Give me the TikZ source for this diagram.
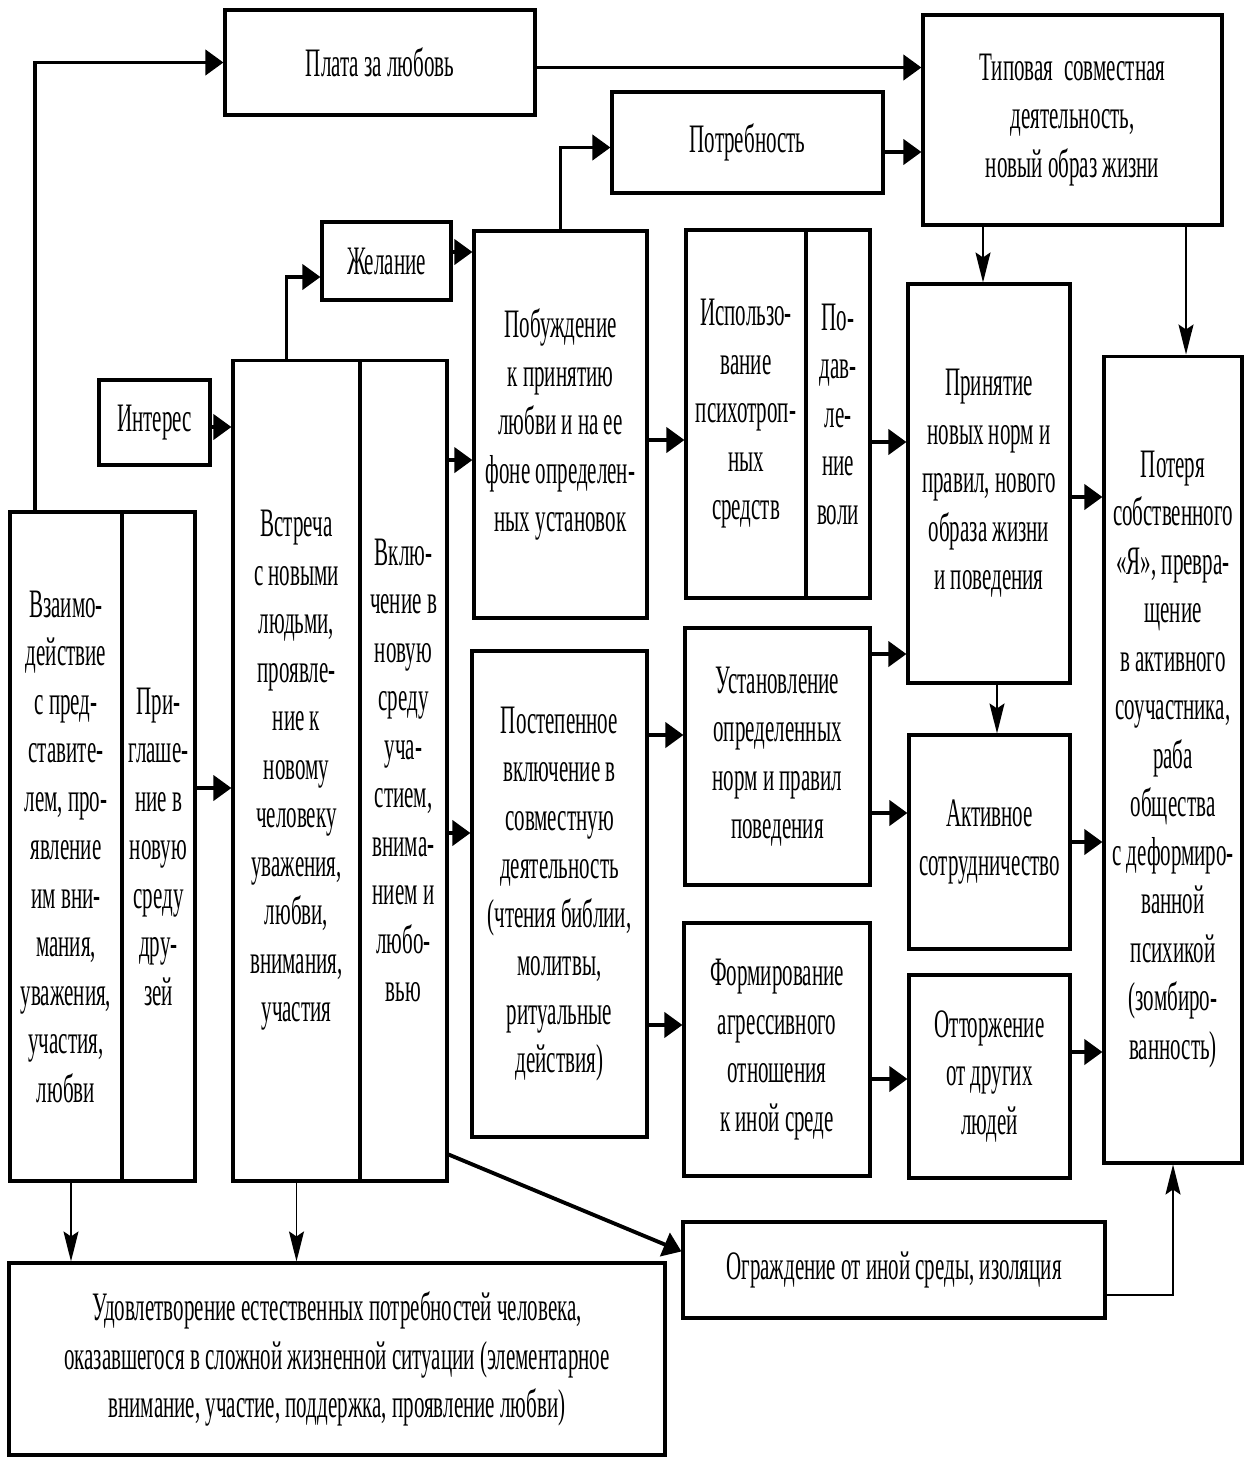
\documentclass[tikz,border=0pt]{standalone}
\usepackage{fontspec}
\setmainfont{Liberation Serif}[FakeStretch=0.52]
\usetikzlibrary{arrows.meta}

\begin{document}
\begin{tikzpicture}[x=0.02cm, y=-0.02cm,
  every node/.style={font=\fontsize{23}{27.6}\selectfont},
  box/.style={draw, line width=1.8pt, align=center, inner sep=0pt},
  arr/.style={line width=2.2pt, -{Triangle[length=3.6mm, width=5mm]}},
  thinarr/.style={line width=1.1pt, -{Stealth[length=6mm, width=3mm, inset=1mm]}}]
\useasboundingbox (0,0) rectangle (1244,1461);
% top row
\node[box, minimum width=6.2cm, minimum height=2.1cm] (plata) at (380,62.5) {Плата за любовь};
\node[box, minimum width=5.98cm, minimum height=4.2cm] (tipovaya) at (1072.5,120) {Типовая\ \ совместная\\деятельность,\\новый образ жизни};
\node[box, minimum width=5.42cm, minimum height=2.02cm] (potreb) at (747.5,142.5) {Потребность};
\node[box, minimum width=2.58cm, minimum height=1.56cm] (zhelanie) at (386.5,261) {Желание};
\node[box, minimum width=2.22cm, minimum height=1.7cm] (interes) at (154.5,422.5) {Интерес};
% double boxes
\node[box, minimum width=2.24cm, minimum height=13.38cm] (vzaim) at (66,846.5) {Взаимо-\\действие\\с пред-\\ставите-\\лем, про-\\явление\\им вни-\\мания,\\уважения,\\участия,\\любви};
\node[box, minimum width=1.46cm, minimum height=13.38cm] (prigl) at (158.5,846.5) {При-\\глаше-\\ние в\\новую\\среду\\дру-\\зей};
\node[box, minimum width=2.54cm, minimum height=16.42cm] (vstrecha) at (296.5,770.5) {Встреча\\с новыми\\людьми,\\проявле-\\ние к\\новому\\человеку\\уважения,\\любви,\\внимания,\\участия};
\node[box, minimum width=1.74cm, minimum height=16.42cm] (vkluch) at (403.5,770.5) {Вклю-\\чение в\\новую\\среду\\уча-\\стием,\\внима-\\нием и\\любо-\\вью};
\node[box, minimum width=2.4cm, minimum height=7.36cm] (ispolz) at (746,414) {Использо-\\вание\\психотроп-\\ных\\средств};
\node[box, minimum width=1.28cm, minimum height=7.36cm] (podavl) at (838,414) {По-\\дав-\\ле-\\ние\\воли};
% middle columns
\node[box, minimum width=3.46cm, minimum height=7.74cm] (pobuzhd) at (560.5,424.5) {Побуждение\\к принятию\\любви и на ее\\фоне определен-\\ных установок};
\node[box, minimum width=3.5cm, minimum height=9.72cm] (postep) at (559.5,894) {Постепенное\\включение в\\совместную\\деятельность\\(чтения библии,\\молитвы,\\ритуальные\\действия)};
\node[box, minimum width=3.7cm, minimum height=5.14cm] (ustanov) at (777.5,756.5) {Установление\\определенных\\норм и правил\\поведения};
\node[box, minimum width=3.72cm, minimum height=5.06cm] (formir) at (777,1049.5) {Формирование\\агрессивного\\отношения\\к иной среде};
\node[box, minimum width=3.24cm, minimum height=7.98cm] (prinyatie) at (989,483.5) {Принятие\\новых норм и\\правил, нового\\образа жизни\\и поведения};
\node[box, minimum width=3.22cm, minimum height=4.28cm] (aktiv) at (989.5,842) {Активное\\сотрудничество};
\node[box, minimum width=3.22cm, minimum height=4.06cm] (ottorzh) at (989.5,1076.5) {Отторжение\\от других\\людей};
\node[box, minimum width=2.76cm, minimum height=16.14cm] (poterya) at (1173,759.5) {Потеря\\собственного\\«Я», превра-\\щение\\в активного\\соучастника,\\раба\\общества\\с деформиро-\\ванной\\психикой\\(зомбиро-\\ванность)};
% bottom row
\node[box, minimum width=8.44cm, minimum height=1.92cm] (ograzh) at (894,1270) {Ограждение от иной среды, изоляция};
\node[box, minimum width=13.12cm, minimum height=3.84cm] (udovl) at (337,1359) {Удовлетворение естественных потребностей человека,\\оказавшегося в сложной жизненной ситуации (элементарное\\внимание, участие, поддержка, проявление любви)};
% thick arrows
\draw[arr] ([xshift=0.54cm]vzaim.north west) |- (plata.west);
\draw[arr] ([yshift=-0.1cm]plata.east) -- ([yshift=-0.1cm]plata.east -| tipovaya.west);
\draw[arr] (pobuzhd.north) |- ([yshift=-0.1cm]potreb.west);
\draw[arr] ([yshift=-0.19cm]potreb.east) -- ([yshift=-0.19cm]potreb.east -| tipovaya.west);
\draw[arr] ([xshift=-0.2cm]vstrecha.north) |- ([yshift=-0.32cm]zhelanie.west);
\draw[arr] ([yshift=0.18cm]zhelanie.east) -- ([yshift=0.18cm]zhelanie.east -| pobuzhd.west);
\draw[arr] ([yshift=-0.09cm]interes.east) -- ([yshift=-0.09cm]interes.east -| vstrecha.west);
\draw[arr] ([yshift=6.21cm]vkluch.east) -- ([yshift=6.21cm]vkluch.east -| pobuzhd.west);
\draw[arr] ([yshift=-0.31cm]pobuzhd.east) -- ([yshift=-0.31cm]pobuzhd.east -| ispolz.west);
\draw[arr] ([yshift=-0.56cm]podavl.east) -- ([yshift=-0.56cm]podavl.east -| prinyatie.west);
\draw[arr] ([yshift=-0.27cm]prinyatie.east) -- ([yshift=-0.27cm]prinyatie.east -| poterya.west);
\draw[arr] ([yshift=1.17cm]prigl.east) -- ([yshift=1.17cm]prigl.east -| vstrecha.west);
\draw[arr] ([yshift=-1.25cm]vkluch.east) -- ([yshift=-1.25cm]vkluch.east -| postep.west);
\draw[arr] ([yshift=3.18cm]postep.east) -- ([yshift=3.18cm]postep.east -| ustanov.west);
\draw[arr] ([yshift=-2.62cm]postep.east) -- ([yshift=-2.62cm]postep.east -| formir.west);
\draw[arr] ([yshift=2.05cm]ustanov.east) -- ([yshift=2.05cm]ustanov.east -| prinyatie.west);
\draw[arr] ([yshift=-1.13cm]ustanov.east) -- ([yshift=-1.13cm]ustanov.east -| aktiv.west);
\draw[arr] (aktiv.east) -- (aktiv.east -| poterya.west);
\draw[arr] ([yshift=-0.59cm]formir.east) -- ([yshift=-0.59cm]formir.east -| ottorzh.west);
\draw[arr] ([yshift=0.49cm]ottorzh.east) -- ([yshift=0.49cm]ottorzh.east -| poterya.west);
\draw[arr] ([yshift=0.56cm]vkluch.south east) -- ([yshift=-0.62cm]ograzh.north west);
% thin arrows
\draw[thinarr] ([xshift=-0.12cm]prinyatie.north |- tipovaya.south) -- ([xshift=-0.12cm]prinyatie.north);
\draw[thinarr] ([xshift=0.26cm]poterya.north |- tipovaya.south) -- ([xshift=0.26cm]poterya.north);
\draw[thinarr] ([xshift=0.16cm]prinyatie.south) -- ([xshift=0.16cm]prinyatie.south |- aktiv.north);
\draw[thinarr] ([yshift=-0.5cm]ograzh.east) -| (poterya.south);
\draw[thinarr] ([xshift=0.1cm]vzaim.south) -- ([xshift=0.1cm]vzaim.south |- udovl.north);
\draw[thinarr] (vstrecha.south) -- (vstrecha.south |- udovl.north);
\end{tikzpicture}
\end{document}
